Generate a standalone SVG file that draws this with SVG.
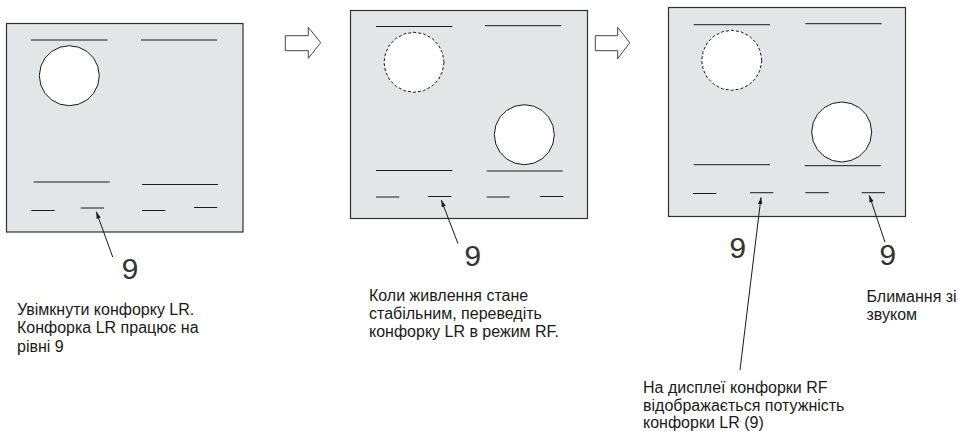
<svg xmlns="http://www.w3.org/2000/svg" width="958" height="431" viewBox="0 0 958 431">
<style>
.panel{fill:#e4e5e7;stroke:#333;stroke-width:1.2}
.l{stroke:#1a1a1a;stroke-width:1;fill:none}
.on{fill:#fff;stroke:#1a1a1a;stroke-width:1}
.off{fill:#fff;stroke:#1a1a1a;stroke-width:1;stroke-dasharray:3 2}
.block{fill:#fff;stroke:#444;stroke-width:1}
.lead{stroke:#1a1a1a;stroke-width:1;fill:none;marker-end:url(#a)}
.d{font-family:"Liberation Mono",monospace;font-size:30px;fill:#333;text-anchor:middle}
.t{font-family:"Liberation Sans",Arial,sans-serif;font-size:16px;fill:#1a1a1a}
</style>
<defs>
<marker id="a" markerUnits="userSpaceOnUse" markerWidth="8" markerHeight="8" refX="7" refY="3" orient="auto"><path d="M0 0.800L7 3L0 5.200Z" fill="#1a1a1a"/></marker>
<polygon id="hob" points="30,0 28.530,9.270 24.270,17.630 17.630,24.270 9.270,28.530 0,30 -9.270,28.530 -17.630,24.270 -24.270,17.630 -28.530,9.270 -30,0 -28.530,-9.270 -24.270,-17.630 -17.630,-24.270 -9.270,-28.530 0,-30 9.270,-28.530 17.630,-24.270 24.270,-17.630 28.530,-9.270"/>
</defs>
<g id="panel-1">
<rect class="panel" x="6.500" y="23.500" width="236.500" height="208.500"/>
<path class="l" d="M31 40H107.500M141 40H217M33.700 182H109.700M142 184.500H218M31.300 210.500H54.700M80.700 208H104M142 210.500H165.300M194 207.500H217.300"/>
<use href="#hob" class="on" x="69.300" y="75.700"/>
</g>
<g id="panel-2">
<rect class="panel" x="350.500" y="10.500" width="237" height="208"/>
<path class="l" d="M376 26.500H452.300M485 25.700H561.300M376 170.500H452.300M486.700 171H562.700M376 197H399.300M428 196.500H451.300M486.700 197H509.700M540 196.500H563.300"/>
<use href="#hob" class="off" x="414" y="62.300"/>
<use href="#hob" class="on" x="524.300" y="134.700"/>
</g>
<g id="panel-3">
<rect class="panel" x="668.500" y="7.500" width="237" height="209"/>
<path class="l" d="M693.700 24.700H770M805.300 23.700H881.700M693.700 164.700H770M804.700 165.700H880.700M693 193.500H716.300M750 192.700H773.300M805.300 192.700H828.700M861.700 192.700H885"/>
<use href="#hob" class="off" x="731.700" y="60.300"/>
<use href="#hob" class="on" x="841.700" y="132"/>
</g>
<g id="step-arrow-1"><path class="block" d="M285.300 35.700H308.300V27.300L320.700 42.700L308.300 58.300V50.700H285.300Z"/></g>
<g id="step-arrow-2"><path class="block" d="M595.300 35.700H617.700V27.300L629.700 42.700L617.700 58.700V50.700H595.300Z"/></g>
<g id="connectors">
<path class="lead" d="M112.700 257L96.300 211.700"/>
<path class="lead" d="M458 243.700L441.300 200"/>
<path class="lead" d="M740 370L761 197.300"/>
<path class="lead" d="M885 242.300L869.300 195.300"/>
</g>
<g id="digit-1"><text class="d" x="130" y="279">9</text></g>
<g id="digit-2"><text class="d" x="472.700" y="266">9</text></g>
<g id="digit-3"><text class="d" x="737.700" y="258.300">9</text></g>
<g id="digit-4"><text class="d" x="887.700" y="265">9</text></g>
<g id="caption-1"><text class="t" x="17" y="315">Увімкнути конфорку LR.</text><text class="t" x="17" y="333.300">Конфорка LR працює на</text><text class="t" x="17" y="351.700">рівні 9</text></g>
<g id="caption-2"><text class="t" x="369" y="301">Коли живлення стане</text><text class="t" x="369" y="318.700">стабільним, переведіть</text><text class="t" x="369" y="337.300">конфорку LR в режим RF.</text></g>
<g id="caption-3"><text class="t" x="866.500" y="301.700">Блимання зі</text><text class="t" x="866.500" y="320.300">звуком</text></g>
<g id="caption-4"><text class="t" x="643" y="393">На дисплеї конфорки RF</text><text class="t" x="643" y="410.500">відображається потужність</text><text class="t" x="643" y="428">конфорки LR (9)</text></g>
</svg>
